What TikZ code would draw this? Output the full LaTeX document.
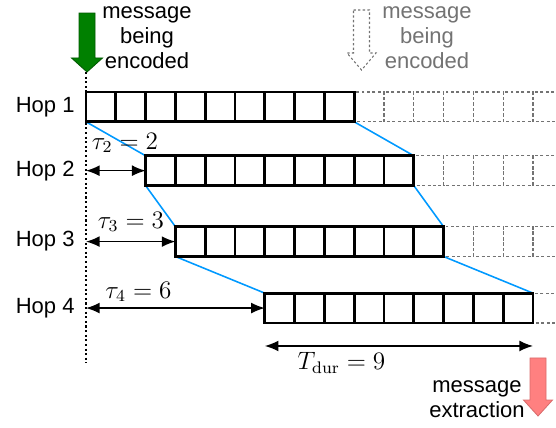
\documentclass[tikz,border=0pt]{standalone}
\usepackage{fontspec}
\setsansfont{Liberation Sans}
\usetikzlibrary{arrows.meta,calc}
\usepackage{tkz-euclide}
\definecolor{EncClr}{rgb}{0,0.5,0}
\definecolor{ExtrClr}{rgb}{1,0.5,0.5}
\definecolor{LinkClr}{rgb}{0,0.6,1}
\definecolor{GhostClr}{gray}{0.45}

\tikzset{
  lbl/.style={font=\sffamily\fontsize{10.5}{11.9}\selectfont,inner sep=0pt,align=center},
  mathlbl/.style={font=\fontsize{12}{14}\selectfont,inner sep=0pt},
  cellbox/.style={line width=1.3pt,black},
  ghostbox/.style={line width=.6pt,GhostClr,dash pattern=on 1.4pt off 1.2pt},
  span/.style={line width=.7pt,{Latex[length=6.5pt,width=5.2pt]}-{Latex[length=6.5pt,width=5.2pt]}}
}

\begin{document}
\begin{tikzpicture}[scale=.5]
\useasboundingbox (-2.886,3.087) rectangle (15.772,-11.275);

% corners of the four hops
\tkzDefPoints{0/0/TL1,9/0/TR1,0/-1/BL1,9/-1/BR1,
  2/-2.14/TL2,11/-2.14/TR2,2/-3.14/BL2,11/-3.14/BR2,
  3/-4.52/TL3,12/-4.52/TR3,3/-5.52/BL3,12/-5.52/BR3,
  6/-6.75/TL4,15/-6.75/TR4,6/-7.75/BL4,15/-7.75/BR4}
\tkzDefPoints{0/-2.64/Z2,2/-2.64/W2,0/-5.02/Z3,3/-5.02/W3,
  0/-7.25/Z4,6/-7.25/W4,6/-8.523/D1,15/-8.523/D2,0/0.671/V1,0/-9.094/V2}

% next message (dashed)
\begin{scope}
\clip (-2.886,3.087) rectangle (15.772,-11.275);
\foreach \s/\t in {0/0,2/-2.14,3/-4.52,6/-6.75}
  \foreach \k in {9,...,17}
    \draw[ghostbox] (\s+\k,\t) rectangle ++(1,-1);
\end{scope}

\draw[line width=.6pt,dash pattern=on 1pt off 1.2pt] (V1) -- (V2);

\tkzDrawSegments[color=LinkClr,line width=.75pt](BL1,TL2 BR1,TR2 BL2,TL3 BR2,TR3 BL3,TL4 BR3,TR4)

\foreach \s/\t in {0/0,2/-2.14,3/-4.52,6/-6.75}
  \foreach \k in {0,...,8}
    \draw[cellbox] (\s+\k,\t) rectangle ++(1,-1);

\node[lbl,anchor=east] (hop1) at (-0.37,-0.5) {Hop 1};
\node[lbl,anchor=east] (hop2) at (-0.37,-2.64) {Hop 2};
\node[lbl,anchor=east] (hop3) at (-0.37,-5.02) {Hop 3};
\node[lbl,anchor=east] (hop4) at (-0.37,-7.25) {Hop 4};

\draw[span] (Z2) -- (W2);
\draw[span] (Z3) -- (W3);
\draw[span] (Z4) -- (W4);
\draw[span] (D1) -- (D2);

\node[mathlbl] (tau2) at (1.309,-1.711) {$\tau_2=2$};
\node[mathlbl] (tau3) at (1.51,-4.36) {$\tau_3=3$};
\node[mathlbl] (tau4) at (1.76,-6.71) {$\tau_4=6$};
\node[mathlbl] (tdur) at (8.574,-9.094) {$T_{\rm dur}=9$};

% arrows
\filldraw[fill=EncClr,draw=EncClr!70!black,line width=.4pt]
  (-0.234,2.651) -- (0.302,2.651) -- (0.302,1.141) -- (0.554,1.141)
  -- (0.034,0.671) -- (-0.486,1.141) -- (-0.234,1.141) -- cycle;
\draw[GhostClr,line width=.5pt,dash pattern=on 1.1pt off 1.1pt]
  (8.977,2.752) -- (9.513,2.752) -- (9.513,1.309) -- (9.732,1.309)
  -- (9.245,0.738) -- (8.758,1.309) -- (8.977,1.309) -- cycle;
\filldraw[fill=ExtrClr,draw=ExtrClr!85!black,line width=.4pt]
  (14.9,-8.926) -- (15.436,-8.926) -- (15.436,-10.336) -- (15.655,-10.336)
  -- (15.168,-10.872) -- (14.681,-10.336) -- (14.9,-10.336) -- cycle;

\node[lbl] (enc) at (2.047,1.812) {message\\being\\encoded};
\node[lbl,text=GhostClr] (enc2) at (11.443,1.812) {message\\being\\encoded};
\node[lbl] (extr) at (13.12,-10.319) {message\\extraction};

\end{tikzpicture}
\end{document}
